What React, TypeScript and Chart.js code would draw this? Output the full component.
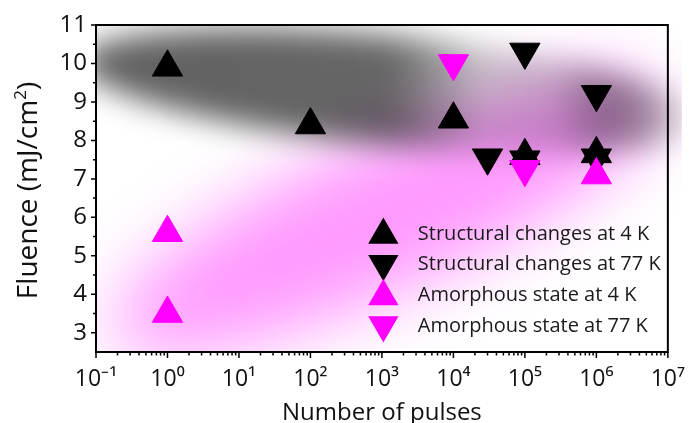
import React, { useEffect, useRef } from 'react';
import { Chart, registerables } from 'chart.js';

Chart.register(...registerables);

// ---- data ----
const structural4KPulses = [1, 100, 1e4, 1e5, 1e6];
const structural4KFluence = [9.9, 8.4, 8.55, 7.6, 7.65];
const structural77KPulses = [3e4, 1e5, 1e5, 1e6, 1e6];
const structural77KFluence = [7.55, 10.3, 7.5, 9.2, 7.55];
const amorphous4KPulses = [1, 1, 1e6];
const amorphous4KFluence = [5.6, 3.5, 7.1];
const amorphous77KPulses = [1e4, 1e5];
const amorphous77KFluence = [10.0, 7.25];

const seriesLabels = [
  'Structural changes at 4 K',
  'Structural changes at 77 K',
  'Amorphous state at 4 K',
  'Amorphous state at 77 K',
];

const xTickExponents = [-1, 0, 1, 2, 3, 4, 5, 6, 7];
const yTickValues = [3, 4, 5, 6, 7, 8, 9, 10, 11];
const xTitle = 'Number of pulses';
const yTitleMain = 'Fluence (mJ/cm';
const yTitleSup = '2';
const yTitleEnd = ')';

// shaded regions (data coordinates: centre pulses / fluence, half sizes in decades / fluence units)
const grayShade = { x: 1300, y: 9.3, halfDecades: 4.35, halfFluence: 1.42, tilt: 5.5 };
const pinkShade = { x: 1100, y: 6.05, halfDecades: 4.15, halfFluence: 1.95, tilt: -24 };
// darkness of the grey shade along its length: [fraction of length, opacity]
const grayShadeStops: [number, number][] = [
  [0, 0.62], [0.5, 0.6], [0.58, 0.4], [0.65, 0.21], [0.76, 0.22],
  [0.84, 0.44], [0.905, 0.4], [0.985, 0.04],
];

const FONT = "'Open Sans', sans-serif";
const SUP: Record<string, string> = {
  '-': '\u207B', '0': '\u2070', '1': '\u00B9', '2': '\u00B2', '3': '\u00B3',
  '4': '\u2074', '5': '\u2075', '6': '\u2076', '7': '\u2077', '8': '\u2078', '9': '\u2079',
};
const toSup = (s: string) => s.split('').map((c) => SUP[c] || c).join('');

const toPoints = (xs: number[], ys: number[]) => xs.map((v, i) => ({ x: v, y: ys[i] }));

function shadeGeom(chart: any, s: any) {
  const { x, y } = chart.scales;
  const cx = x.getPixelForValue(s.x);
  const cy = y.getPixelForValue(s.y);
  const perDecade = x.getPixelForValue(10) - x.getPixelForValue(1);
  const perUnit = y.getPixelForValue(3) - y.getPixelForValue(4);
  return { cx, cy, rx: s.halfDecades * perDecade, ry: s.halfFluence * perUnit, rot: (s.tilt * Math.PI) / 180 };
}

const shadePlugin = {
  id: 'shade',
  beforeDatasetsDraw(chart: any) {
    const { ctx, chartArea: a } = chart;
    ctx.save();
    ctx.beginPath();
    ctx.rect(a.left, a.top, a.right - a.left + 14, a.bottom - a.top);
    ctx.clip();

    const p = shadeGeom(chart, pinkShade);
    ctx.filter = 'blur(34px)';
    ctx.fillStyle = 'rgba(255,0,255,0.4)';
    ctx.beginPath();
    ctx.ellipse(p.cx, p.cy, p.rx, p.ry, p.rot, 0, Math.PI * 2);
    ctx.fill();

    const g = shadeGeom(chart, grayShade);
    const grad = ctx.createLinearGradient(g.cx - g.rx, 0, g.cx + g.rx, 0);
    grayShadeStops.forEach(([f, o]) => grad.addColorStop(f, `rgba(0,0,0,${o})`));
    ctx.filter = 'blur(15px)';
    ctx.fillStyle = grad;
    ctx.beginPath();
    ctx.ellipse(g.cx, g.cy, g.rx, g.ry, g.rot, 0, Math.PI * 2);
    ctx.fill();
    ctx.filter = 'none';
    ctx.restore();
  },
};

function triangle(ctx: CanvasRenderingContext2D, x: number, y: number, r: number, down: boolean) {
  let rad = down ? Math.PI : 0;
  ctx.beginPath();
  for (let i = 0; i < 3; i++) {
    const px = x + Math.sin(rad) * r;
    const py = y - Math.cos(rad) * r;
    if (i === 0) ctx.moveTo(px, py);
    else ctx.lineTo(px, py);
    rad += (2 * Math.PI) / 3;
  }
  ctx.closePath();
  ctx.fill();
}

const decorPlugin = {
  id: 'decor',
  afterDraw(chart: any) {
    const { ctx, chartArea: a, scales } = chart;
    const x = scales.x;
    const y = scales.y;
    ctx.save();
    ctx.strokeStyle = '#000';
    ctx.lineWidth = 1.5;
    ctx.beginPath();
    const eFirst = xTickExponents[0];
    const eLast = xTickExponents[xTickExponents.length - 1];
    for (let e = eFirst; e <= eLast; e++) {
      const px = x.getPixelForValue(Math.pow(10, e));
      ctx.moveTo(px, a.bottom);
      ctx.lineTo(px, a.bottom + 6);
      if (e < eLast) {
        for (let k = 2; k <= 9; k++) {
          const pm = x.getPixelForValue(k * Math.pow(10, e));
          ctx.moveTo(pm, a.bottom);
          ctx.lineTo(pm, a.bottom + 3.5);
        }
      }
    }
    yTickValues.forEach((v) => {
      const py = y.getPixelForValue(v);
      ctx.moveTo(a.left, py);
      ctx.lineTo(a.left - 5, py);
      const pm = y.getPixelForValue(v - 0.5);
      if (v - 0.5 > y.min) {
        ctx.moveTo(a.left, pm);
        ctx.lineTo(a.left - 3, pm);
      }
    });
    ctx.stroke();

    ctx.lineWidth = 2;
    ctx.strokeRect(a.left, a.top, a.right - a.left, a.bottom - a.top);

    // axis titles
    ctx.fillStyle = '#111';
    ctx.textBaseline = 'alphabetic';
    ctx.font = `24px ${FONT}`;
    ctx.textAlign = 'center';
    ctx.fillText(xTitle, (a.left + a.right) / 2, 420);

    ctx.save();
    const big = 28;
    const small = 17;
    ctx.font = `${big}px ${FONT}`;
    const w1 = ctx.measureText(yTitleMain).width;
    const w3 = ctx.measureText(yTitleEnd).width;
    ctx.font = `${small}px ${FONT}`;
    const w2 = ctx.measureText(yTitleSup).width;
    const total = w1 + w2 + w3;
    ctx.translate(37, (a.top + a.bottom) / 2 + 2);
    ctx.rotate(-Math.PI / 2);
    ctx.textAlign = 'left';
    ctx.font = `${big}px ${FONT}`;
    ctx.fillText(yTitleMain, -total / 2, 0);
    ctx.font = `${small}px ${FONT}`;
    ctx.fillText(yTitleSup, -total / 2 + w1, -big * 0.38);
    ctx.font = `${big}px ${FONT}`;
    ctx.fillText(yTitleEnd, -total / 2 + w1 + w2, 0);
    ctx.restore();

    // legend
    const markerX = a.right - 284.5;
    const textX = a.right - 250;
    const firstRow = a.bottom - 118;
    const rowGap = 30.7;
    ctx.font = `20px ${FONT}`;
    ctx.textAlign = 'left';
    ctx.textBaseline = 'middle';
    chart.data.datasets.forEach((ds: any, i: number) => {
      const ry = firstRow + i * rowGap;
      const down = ds.rotation === 180;
      ctx.fillStyle = ds.backgroundColor;
      triangle(ctx, markerX, down ? ry - 1 : ry + 1, 17.5, down);
      ctx.fillStyle = '#1a1a1a';
      ctx.fillText(ds.label, textX, ry);
    });
    ctx.restore();
  },
};

export default function App() {
  const ref = useRef<HTMLCanvasElement | null>(null);

  useEffect(() => {
    if (!ref.current) return;
    const mk = (label: string, xs: number[], ys: number[], color: string, down: boolean, order: number) => ({
      label,
      data: toPoints(xs, ys),
      pointStyle: 'triangle',
      rotation: down ? 180 : 0,
      pointRadius: 17.5,
      pointHoverRadius: 17.5,
      backgroundColor: color,
      borderColor: color,
      borderWidth: 1,
      order,
    });
    const chart = new Chart(ref.current, {
      type: 'scatter',
      data: {
        datasets: [
          mk(seriesLabels[0], structural4KPulses, structural4KFluence, '#000000', false, 1),
          mk(seriesLabels[1], structural77KPulses, structural77KFluence, '#000000', true, 1),
          mk(seriesLabels[2], amorphous4KPulses, amorphous4KFluence, '#ff00ff', false, 0),
          mk(seriesLabels[3], amorphous77KPulses, amorphous77KFluence, '#ff00ff', true, 0),
        ] as any,
      },
      options: {
        animation: false,
        responsive: false,
        devicePixelRatio: 1,
        layout: { padding: { top: 25, right: 22, left: 0, bottom: 0 } },
        plugins: { legend: { display: false }, tooltip: { enabled: false } },
        scales: {
          x: {
            type: 'logarithmic',
            min: 0.1,
            max: 1e7,
            grid: { display: false, drawTicks: false },
            border: { display: false },
            ticks: {
              color: '#111',
              padding: 14,
              autoSkip: false,
              maxRotation: 0,
              font: { family: FONT, size: 23 },
              callback: (v: any) => '10' + toSup(String(Math.round(Math.log10(Number(v))))),
            },
            afterBuildTicks: (s: any) => {
              s.ticks = xTickExponents.map((e) => ({ value: Math.pow(10, e), major: false }));
            },
            afterFit: (s: any) => {
              s.height = 71;
            },
          },
          y: {
            type: 'linear',
            min: 2.5,
            max: 11,
            grid: { display: false, drawTicks: false },
            border: { display: false },
            ticks: {
              color: '#111',
              padding: 9,
              autoSkip: false,
              font: { family: FONT, size: 24 },
            },
            afterBuildTicks: (s: any) => {
              s.ticks = yTickValues.map((v) => ({ value: v }));
            },
            afterFit: (s: any) => {
              s.width = 96;
            },
          },
        },
      } as any,
      plugins: [shadePlugin, decorPlugin],
    });
    return () => chart.destroy();
  }, []);

  return (
    <div style={{ position: 'absolute', left: 0, top: 0, width: 699, height: 423, background: '#fff' }}>
      <canvas ref={ref} width={699} height={423} style={{ display: 'block' }} />
    </div>
  );
}
